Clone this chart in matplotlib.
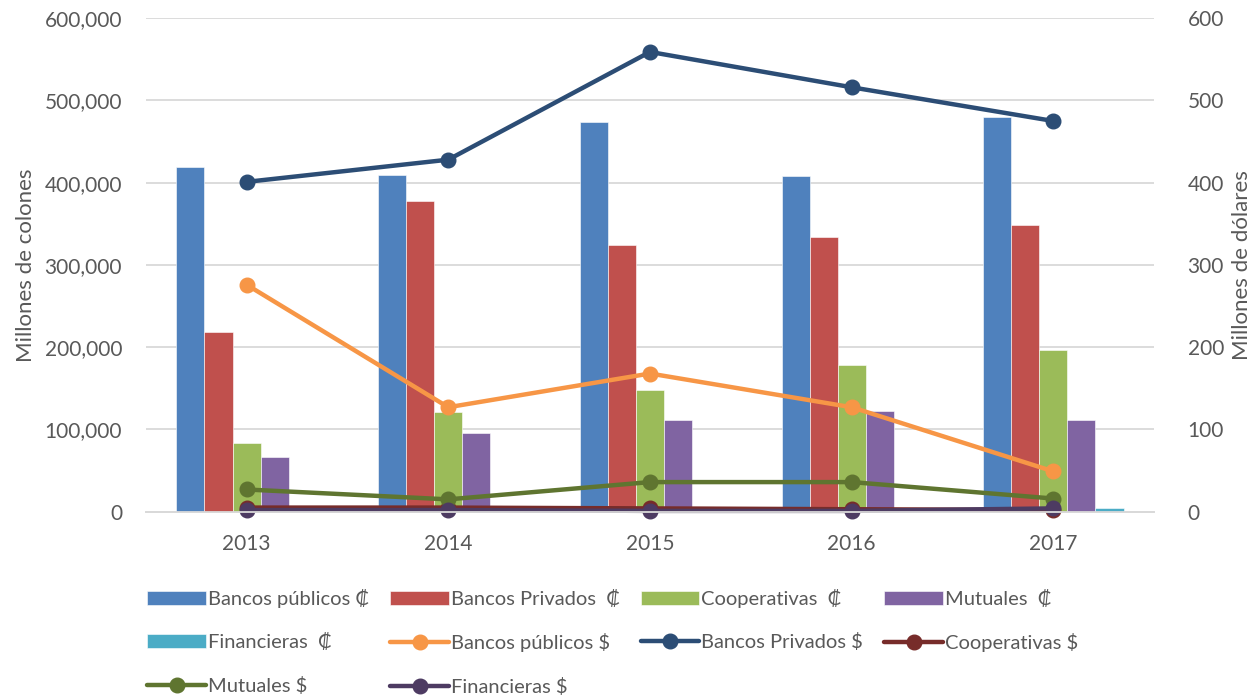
import numpy as np
import matplotlib.pyplot as plt
from matplotlib.ticker import FuncFormatter

# datos
years = ['2013', '2014', '2015', '2016', '2017']

# millones de colones (barras, eje izquierdo)
bancos_publicos_col = [419000, 409000, 474000, 408000, 480000]
bancos_privados_col = [218000, 378000, 324000, 334000, 348000]
cooperativas_col = [84000, 121000, 148000, 178000, 197000]
mutuales_col = [67000, 96000, 111000, 123000, 111000]
financieras_col = [0, 0, 0, 0, 4000]

# millones de dolares (lineas, eje derecho)
bancos_publicos_usd = [276, 127, 168, 127, 49]
bancos_privados_usd = [401, 428, 559, 516, 475]
cooperativas_usd = [5, 5, 4, 3, 2]
mutuales_usd = [27, 15, 36, 36, 16]
financieras_usd = [2, 2, 1, 1, 4]

bar_series = [
    ('Bancos públicos ₡', bancos_publicos_col, '#4F81BD'),
    ('Bancos Privados  ₡', bancos_privados_col, '#C0504D'),
    ('Cooperativas  ₡', cooperativas_col, '#9BBB59'),
    ('Mutuales  ₡', mutuales_col, '#8064A2'),
    ('Financieras  ₡', financieras_col, '#4BACC6'),
]
line_series = [
    ('Bancos públicos $', bancos_publicos_usd, '#F79646'),
    ('Bancos Privados $', bancos_privados_usd, '#2C4D75'),
    ('Cooperativas $', cooperativas_usd, '#772C2A'),
    ('Mutuales $', mutuales_usd, '#5F7530'),
    ('Financieras $', financieras_usd, '#4D3B62'),
]

plt.rcParams['font.family'] = ['Lato', 'DejaVu Sans']
gray = '#595959'

fig = plt.figure(figsize=(12.56, 7), dpi=100)
ax = fig.add_axes([0.116, 0.269, 0.803, 0.705])
ax2 = ax.twinx()

x = np.arange(len(years))
w = 0.139
handles = {}
for i, (name, vals, color) in enumerate(bar_series):
    h = ax.bar(x + (i - 2) * w, vals, w, color=color, edgecolor='white',
               linewidth=0.4, label=name, zorder=3)
    handles[name] = h

for name, vals, color in line_series:
    h, = ax2.plot(x, vals, color=color, linewidth=3.2, marker='o',
                  markersize=10.5, label=name, solid_capstyle='round',
                  clip_on=False)
    handles[name] = h

ax.set_xlim(-0.5, 4.5)
ax.set_ylim(0, 600000)
ax2.set_ylim(0, 600)
ax.set_yticks(np.arange(0, 600001, 100000))
ax2.set_yticks(np.arange(0, 601, 100))
ax.yaxis.set_major_formatter(FuncFormatter(lambda v, p: f'{int(v):,}'))
ax.set_xticks(x)
ax.set_xticklabels(years)

ax.grid(axis='y', color='#D9D9D9', linewidth=1.3, zorder=0)
ax.set_axisbelow(True)
for a in (ax, ax2):
    for s in ['top', 'left', 'right']:
        a.spines[s].set_visible(False)
    a.spines['bottom'].set_color('#D9D9D9')
    a.spines['bottom'].set_linewidth(1.3)
    a.tick_params(length=0, labelsize=15, colors=gray)
ax.tick_params(axis='y', pad=17)
ax2.tick_params(axis='y', pad=24)
ax.tick_params(axis='x', pad=16)

ax.set_ylabel('Millones de colones', fontsize=16, color=gray, labelpad=6)
ax2.set_ylabel('Millones de dólares', fontsize=16, color=gray, labelpad=6)

# orden por columnas para que la leyenda se lea por filas
order = ['Bancos públicos ₡', 'Financieras  ₡', 'Mutuales $',
         'Bancos Privados  ₡', 'Bancos públicos $', 'Financieras $',
         'Cooperativas  ₡', 'Bancos Privados $',
         'Mutuales  ₡', 'Cooperativas $']
leg = fig.legend([handles[k] for k in order], order, ncol=4,
                 loc='upper left', bbox_to_anchor=(0.103, 0.185),
                 frameon=False, fontsize=14.5, handlelength=2.9,
                 handletextpad=0.1, columnspacing=1.05, labelspacing=1.28,
                 labelcolor=gray)

fig.savefig('out.png', dpi=100)
